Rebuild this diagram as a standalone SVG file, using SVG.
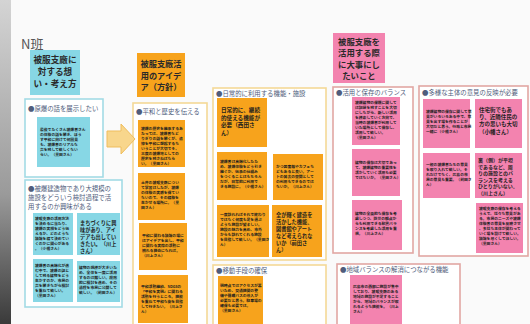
<svg xmlns="http://www.w3.org/2000/svg" width="530" height="324" viewBox="0 0 530 324">
<defs>
<style>
text{font-family:"Noto Sans CJK JP","Noto Sans",sans-serif}
.cy{fill:#87d7e5}
.or{fill:#f7a31c}
.pk{fill:#f383af}
.fc{fill:#ffffff;stroke:#a3dbe5;stroke-width:1.6}
.fo{fill:#ffffff;stroke:#f4d997;stroke-width:1.6}
.fp{fill:#ffffff;stroke:#e2a7a3;stroke-width:1.6}
.lbl{font-size:6.4px;fill:#4f5d7c}
.h{font-size:8.6px;font-weight:bold;fill:#2a2a2a;text-anchor:middle}
.t{font-size:3.8px;font-weight:bold;fill:#1e1e1e}
.m{font-size:5.2px;font-weight:bold;fill:#1e1e1e}
</style>
<linearGradient id="edge" x1="0" y1="0" x2="0" y2="1">
<stop offset="0" stop-color="#d4d4d4"/>
<stop offset="0.6" stop-color="#9a9a9a"/>
<stop offset="1" stop-color="#3a3a3a"/>
</linearGradient>
</defs>
<rect width="530" height="324" fill="#fafafa"/>
<rect x="0" y="0" width="11" height="324" fill="url(#edge)"/>
<text x="21" y="49" font-size="13" fill="#555">N班</text>

<g id="header-cyan">
<rect class="cy" x="30" y="50" width="50" height="45"/>
<text class="h"><tspan x="55" y="63">被服支廠に</tspan><tspan x="55" y="75">対する想</tspan><tspan x="55" y="87">い・考え方</tspan></text>
</g>
<g id="header-orange">
<rect class="or" x="137" y="53" width="48" height="44"/>
<text class="h" style="font-size:8.2px"><tspan x="161" y="67">被服支廠活</tspan><tspan x="161" y="78.5">用のアイデ</tspan><tspan x="161" y="90">ア（方針）</tspan></text>
</g>
<g id="header-pink">
<rect class="pk" x="333" y="33" width="52" height="50"/>
<text class="h" style="font-size:8.4px"><tspan x="359" y="45">被服支廠を</tspan><tspan x="359" y="56.3">活用する際</tspan><tspan x="359" y="67.6">に大事にし</tspan><tspan x="359" y="78.9">たいこと</tspan></text>
</g>

<g id="sec-cyan-1">
<rect class="fc" x="25" y="99" width="78" height="78"/>
<text class="lbl" x="28" y="111">●原爆の話を展示したい</text>
<rect class="cy" x="37" y="117" width="53" height="50"/>
<text class="t"><tspan x="40" y="131">最後でたくさん被爆者さん</tspan><tspan x="40" y="136">の体験の話を聞き、ぼう</tspan><tspan x="40" y="141">す平和に向けて何回見</tspan><tspan x="40" y="146">も、被爆者のリアルな</tspan><tspan x="40" y="151">声を残して欲しくない</tspan><tspan x="40" y="156">らい。（黒田さん）</tspan></text>
</g>

<g id="sec-cyan-2">
<rect class="fc" x="25" y="180" width="97" height="127"/>
<text class="lbl"><tspan x="28" y="191">●被爆建造物であり大規模の</tspan><tspan x="28" y="200">施設をどういう検討過程で活</tspan><tspan x="28" y="209">用するのか興味がある</tspan></text>
<rect class="cy" x="33" y="213" width="40" height="42"/>
<text class="t"><tspan x="35" y="220">被服支廠の活用方法</tspan><tspan x="35" y="225">を決めるに当たり、</tspan><tspan x="35" y="230">被爆の実相をどう伝</tspan><tspan x="35" y="235">えるか、どのような</tspan><tspan x="35" y="240">議論を経て決めてい</tspan><tspan x="35" y="245">くのかに関心がある</tspan><tspan x="35" y="250">。（小幡さん）</tspan></text>
<rect class="cy" x="77" y="213" width="43" height="42"/>
<text class="m"><tspan x="80" y="225">まちづくりに興</tspan><tspan x="80" y="232">味があり、アイ</tspan><tspan x="80" y="239">デアも出してい</tspan><tspan x="80" y="246">きたい。（川上</tspan><tspan x="80" y="253">さん）</tspan></text>
<rect class="cy" x="33" y="259" width="40" height="43"/>
<text class="t"><tspan x="35" y="267">被爆者の高齢化が進</tspan><tspan x="35" y="272">む中で、被爆の証と</tspan><tspan x="35" y="277">して残る建物をどう</tspan><tspan x="35" y="282">生かすのか、市民の</tspan><tspan x="35" y="287">声を聞きながら検討</tspan><tspan x="35" y="292">を重ねて欲しい。</tspan><tspan x="35" y="297">（黒田さん）</tspan></text>
<rect class="cy" x="77" y="261" width="43" height="41"/>
<text class="t"><tspan x="79" y="269">建物の規模が大きいた</tspan><tspan x="79" y="274">め、全体を一度に活用</tspan><tspan x="79" y="279">するのは難しい。段階</tspan><tspan x="79" y="284">的に検討を進め、その</tspan><tspan x="79" y="289">過程を市民に公開して</tspan><tspan x="79" y="294">欲しい。（前田さん）</tspan></text>
</g>

<g id="sec-orange-1">
<rect class="fo" x="133" y="103" width="74" height="226"/>
<text class="lbl" x="136" y="114">●平和と歴史を伝える</text>
<rect class="or" x="138" y="120" width="47" height="47"/>
<text class="t"><tspan x="141" y="130">被爆の歴史を継承するあ</tspan><tspan x="141" y="135">たっては、被爆者など</tspan><tspan x="141" y="140">りぎりの話を聞くが、追</tspan><tspan x="141" y="145">悼を平和に想起するな</tspan><tspan x="141" y="150">いうことが大切でそ、</tspan><tspan x="141" y="155">三度の被爆地としての</tspan><tspan x="141" y="160">歴史を残さねばなら</tspan><tspan x="141" y="165">い。（黒田さん）</tspan></text>
<rect class="or" x="138" y="173" width="47" height="47"/>
<text class="t"><tspan x="141" y="184">土井の被服支廠につい</tspan><tspan x="141" y="189">て学習はしたが、被爆</tspan><tspan x="141" y="194">の体験の実感を得てい</tspan><tspan x="141" y="199">ないので、その経験を</tspan><tspan x="141" y="204">生かせる場所に。（黒</tspan><tspan x="141" y="209">田さん）</tspan></text>
<rect class="or" x="139" y="223" width="48" height="47"/>
<text class="t"><tspan x="142" y="237">平和に関わる議論の場に</tspan><tspan x="142" y="242">はアイデアを出し、平和</tspan><tspan x="142" y="247">に関わる実際の活動に</tspan><tspan x="142" y="252">触れる機会になれば。</tspan><tspan x="142" y="257">（川上さん）</tspan></text>
<rect class="or" x="138" y="275" width="50" height="48"/>
<text class="t"><tspan x="141" y="288">平和活動継続、SDGsの</tspan><tspan x="141" y="293">「平和を実現」に関わる</tspan><tspan x="141" y="298">活動を行うところ。機能</tspan><tspan x="141" y="303">を重ねて平和な街を目指</tspan><tspan x="141" y="308">して行きたい。（川上さ</tspan><tspan x="141" y="313">ん）</tspan></text>
</g>

<g id="sec-orange-2">
<rect class="fo" x="213" y="88" width="113" height="172"/>
<text class="lbl" x="216" y="96">●日常的に利用する機能・施設</text>
<rect class="or" x="217" y="98" width="50" height="49"/>
<text class="m" style="font-size:5.6px"><tspan x="221" y="112">日常的に、継続</tspan><tspan x="221" y="119.5">的使える機能が</tspan><tspan x="221" y="127">必要（西田さ</tspan><tspan x="221" y="134.5">ん）</tspan></text>
<rect class="or" x="217" y="152" width="50" height="48"/>
<text class="t"><tspan x="220" y="163">被爆者は高齢化したた</tspan><tspan x="220" y="168">め、被爆体験をどう引き</tspan><tspan x="220" y="173">継ぐか、伝承の仕組み</tspan><tspan x="220" y="178">をつくることはもちろん</tspan><tspan x="220" y="183">だが、日常的に利用で</tspan><tspan x="220" y="188">きる施設に。（小幡さん）</tspan></text>
<rect class="or" x="273" y="154" width="50" height="46"/>
<text class="t"><tspan x="276" y="168">かつ図書館やカフェな</tspan><tspan x="276" y="173">どもあると良い。アー</tspan><tspan x="276" y="178">トの発表の空間として</tspan><tspan x="276" y="183">の利用もできるのでは</tspan><tspan x="276" y="188">ないか。（川上さん）</tspan></text>
<rect class="or" x="217" y="205" width="52" height="52"/>
<text class="t"><tspan x="220" y="216">一度訪れればそれで終わり</tspan><tspan x="220" y="221">ではなく何度も足を運ぶ</tspan><tspan x="220" y="226">ような施設が望ましい。</tspan><tspan x="220" y="231">施設の魅力を高め、市外</tspan><tspan x="220" y="236">からも訪れてくれる施設</tspan><tspan x="220" y="241">を目指して欲しい。（黒田さ</tspan><tspan x="220" y="246">ん）</tspan></text>
<rect class="or" x="272" y="205" width="50" height="52"/>
<text class="m"><tspan x="276" y="217">全が輝く建造を</tspan><tspan x="276" y="224">活かした機能、</tspan><tspan x="276" y="231">図書館やアート</tspan><tspan x="276" y="238">など考えられな</tspan><tspan x="276" y="245">いか（前田さ</tspan><tspan x="276" y="252">ん）</tspan></text>
</g>

<g id="sec-orange-3">
<rect class="fo" x="213" y="265" width="113" height="64"/>
<text class="lbl" x="216" y="273">●移動手段の確保</text>
<rect class="or" x="218" y="276" width="45" height="48"/>
<text class="t"><tspan x="220" y="287">現時点ではアクセスが悪</tspan><tspan x="220" y="292">いため、交通機関の整</tspan><tspan x="220" y="297">備や循環バスの導入が</tspan><tspan x="220" y="302">必要だと思う。駐車場の</tspan><tspan x="220" y="307">確保も必要では。</tspan><tspan x="220" y="312">（黒田さん）</tspan></text>
</g>

<g id="sec-pink-1">
<rect class="fp" x="333" y="87" width="80" height="166"/>
<text class="lbl" x="336" y="95">●活用と保存のバランス</text>
<rect class="pk" x="352" y="97" width="48" height="48"/>
<text class="t"><tspan x="355" y="104">被爆建物の保護に関して</tspan><tspan x="355" y="109">は記録を残すことを大切</tspan><tspan x="355" y="114">にしながら、新しい活用</tspan><tspan x="355" y="119">を模索していく方向で、</tspan><tspan x="355" y="124">当時の被爆者が利用して</tspan><tspan x="355" y="129">いた場所として保存し、</tspan><tspan x="355" y="134">活用して欲しい。</tspan><tspan x="355" y="139">（黒田さん）</tspan></text>
<rect class="pk" x="352" y="149" width="48" height="47"/>
<text class="t"><tspan x="355" y="164">建物の保存は大切であっ</tspan><tspan x="355" y="169">て、被爆建物の重要性を</tspan><tspan x="355" y="174">活かしていく活用も必要</tspan><tspan x="355" y="179">ではないか。（黒田さん）</tspan></text>
<rect class="pk" x="352" y="200" width="50" height="50"/>
<text class="t"><tspan x="355" y="215">建物の全面的な保存を考</tspan><tspan x="355" y="220">慮しつつ、防災の観点か</tspan><tspan x="355" y="225">らも利用できる耐震バラ</tspan><tspan x="355" y="230">ンスを考慮した活用を重</tspan><tspan x="355" y="235">視。（川上さん）</tspan></text>
</g>

<g id="sec-pink-2">
<rect class="fp" x="419" y="86" width="109" height="170"/>
<text class="lbl" x="422" y="95">●多様な主体の意見の反映が必要</text>
<rect class="pk" x="423" y="99" width="47" height="49"/>
<text class="t"><tspan x="426" y="113">被爆建物の保存に関して意</tspan><tspan x="426" y="118">見がいろいろある中で、意</tspan><tspan x="426" y="123">見を出す場を作ることが</tspan><tspan x="426" y="128">大切だと思う。行政と市民</tspan><tspan x="426" y="133">一緒に（小幡さん）</tspan></text>
<rect class="pk" x="475" y="99" width="47" height="49"/>
<text class="m" style="font-size:5.5px"><tspan x="479" y="112">住宅街でもあ</tspan><tspan x="479" y="119.2">り、近隣住民の</tspan><tspan x="479" y="126.4">方の思いも大切</tspan><tspan x="479" y="133.6">（小幡さん）</tspan></text>
<rect class="pk" x="423" y="153" width="47" height="45"/>
<text class="t"><tspan x="426" y="166">一般の被爆者たちの意見</tspan><tspan x="426" y="171">を取り入れて欲しい。そ</tspan><tspan x="426" y="176">れだけでなく、広島の市</tspan><tspan x="426" y="181">民の意見も重要。（前田さ</tspan><tspan x="426" y="186">ん）</tspan></text>
<rect class="pk" x="475" y="153" width="47" height="45"/>
<text class="m" style="font-size:5px"><tspan x="478" y="162">裏（側）が平坦</tspan><tspan x="478" y="168.5">であるなど、周</tspan><tspan x="478" y="175">りの施設とのバ</tspan><tspan x="478" y="181.5">ランスを考える</tspan><tspan x="478" y="188">ひとりがいない。</tspan><tspan x="478" y="194.5">（川上さん）</tspan></text>
<rect class="pk" x="476" y="203" width="47" height="50"/>
<text class="t"><tspan x="479" y="210">被服支廠の保存を考える</tspan><tspan x="479" y="215">うえで、様々な意見があ</tspan><tspan x="479" y="220">る。市民のニーズや被爆</tspan><tspan x="479" y="225">体験者の意見を反映させ</tspan><tspan x="479" y="230">、多様な主体が関わって</tspan><tspan x="479" y="235">いく場を設けて欲しい。</tspan><tspan x="479" y="240">議論を尽くしてほしい。</tspan><tspan x="479" y="245">（黒田さん）</tspan></text>
</g>

<g id="sec-pink-3">
<rect class="fp" x="337" y="264" width="123" height="65"/>
<text class="lbl" x="340" y="272">●地域バランスの解消につながる機能</text>
<rect class="pk" x="350" y="275" width="52" height="49"/>
<text class="t"><tspan x="353" y="288">広島市の西部に施設が集中</tspan><tspan x="353" y="293">しており、被服支廠のある</tspan><tspan x="353" y="298">地域の施設が不足すること</tspan><tspan x="353" y="303">から、地域のバランスが取</tspan><tspan x="353" y="308">れるような機能を。（川上</tspan><tspan x="353" y="313">さん）</tspan></text>
</g>

<g id="connectors">
<path d="M107,131 H121 V124 L135,139 L121,154 V147 H107 Z" fill="#f8d68c" stroke="#efbd5c" stroke-width="1"/>
</g>
</svg>
